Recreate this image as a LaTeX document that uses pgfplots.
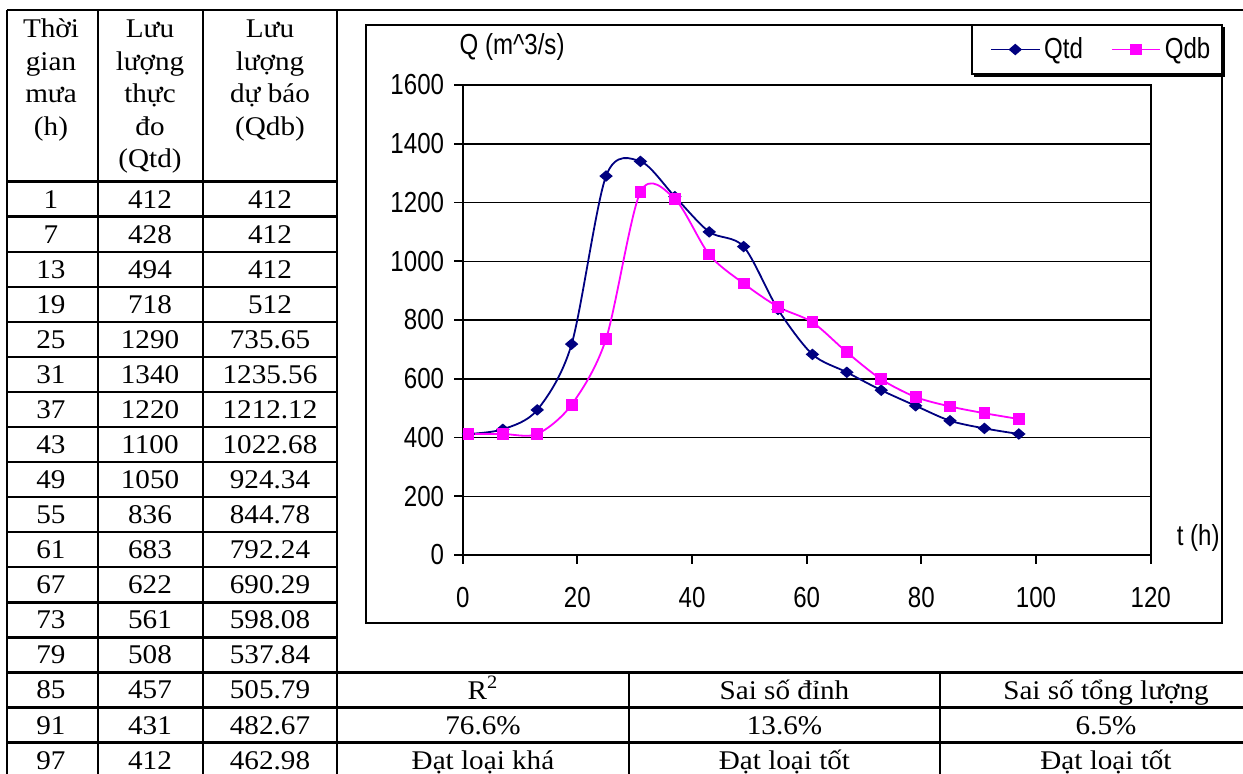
\documentclass[border=0pt]{standalone}
\usepackage{fontspec}
\usepackage{pgfplots}
\pgfplotsset{compat=1.18}
\newfontfamily\tfont[FakeStretch=1.08]{Liberation Serif}
\newfontfamily\cfont[FakeStretch=0.83]{Liberation Sans}
\definecolor{qtd}{RGB}{0,0,128}
\definecolor{qdb}{RGB}{255,0,255}
\newcommand{\tsize}{\tfont\fontsize{13.5pt}{16pt}\selectfont}
\newcommand{\csize}{\cfont\fontsize{14.5pt}{16pt}\selectfont}
\begin{document}
\begin{tikzpicture}
\begin{scope}[x=0.5pt,y=-0.5pt]
\useasboundingbox (0,0) rectangle (1243,773);
\begin{scope}[line width=1.15pt]
\draw (7,10) -- (1260,10);
\foreach \x in {7,97.7,203,337} \draw (\x,10) -- (\x,790);
\draw (7,181.5) -- (337,181.5);
\foreach \k in {1,...,13} \draw (7,{181.5+35.07*\k}) -- (337,{181.5+35.07*\k});
\foreach \k in {14,15,16} \draw (7,{181.5+35.07*\k}) -- (1260,{181.5+35.07*\k});
\draw (629,672.5) -- (629,790);
\draw (940,672.5) -- (940,790);
\draw (366,25) rectangle (1222,623);
\draw (972,25) rectangle (1222,74);
\draw[line width=1.6pt] (974,75) -- (1223,75) -- (1223,27);
\end{scope}
% header
\begin{scope}[every node/.style={anchor=base,inner sep=0pt,font=\tsize}]
\node at (51,37.5) {Thời};
\node at (51,70) {gian};
\node at (51,102.5) {mưa};
\node at (51,135) {(h)};
\node at (150,37.5) {Lưu};
\node at (150,70) {lượng};
\node at (150,102.5) {thực};
\node at (150,135) {đo};
\node at (150,167.5) {(Qtd)};
\node at (270,37.5) {Lưu};
\node at (270,70) {lượng};
\node at (270,102.5) {dự báo};
\node at (270,135) {(Qdb)};
\foreach \a/\b/\c [count=\i from 0] in {1/412/412, 7/428/412, 13/494/412, 19/718/512, 25/1290/735.65, 31/1340/1235.56, 37/1220/1212.12, 43/1100/1022.68, 49/1050/924.34, 55/836/844.78, 61/683/792.24, 67/622/690.29, 73/561/598.08, 79/508/537.84, 85/457/505.79, 91/431/482.67, 97/412/462.98}
{
\node at (51,{181.5+35.07*\i+26.5}) {\a};
\node at (150,{181.5+35.07*\i+26.5}) {\b};
\node at (270,{181.5+35.07*\i+26.5}) {\c};
}
\node at (483,699) {R\textsuperscript{2}};
\node at (784.5,699) {Sai số đỉnh};
\node at (1106,699) {Sai số tổng lượng};
\node at (483,734) {76.6\%};
\node at (784.5,734) {13.6\%};
\node at (1106,734) {6.5\%};
\node at (483,769) {Đạt loại khá};
\node at (784.5,769) {Đạt loại tốt};
\node at (1106,769) {Đạt loại tốt};
\end{scope}
\end{scope}
\begin{axis}[
  at={(231.35pt,-277.5pt)}, anchor=south west,
  scale only axis, width=344pt, height=235pt,
  xmin=0, xmax=120, ymin=0, ymax=1600,
  xtick={0,20,...,120}, ytick={0,200,...,1600},
  tick align=outside, xtick pos=bottom, ytick pos=left,
  major tick length=4.3pt,
  ymajorgrids, grid style={black, line width=0.75pt},
  axis line style={black, line width=0.9pt},
  tick style={black, line width=0.9pt},
  /pgf/number format/assume math mode=true,
  /pgf/number format/1000 sep={},
  tick label style={font=\csize},
  xticklabel style={yshift=-8.5pt},
  yticklabel style={xshift=-1.5pt},
  xlabel={t (h)}, ylabel={Q (m\textasciicircum 3/s)},
  every axis x label/.style={at={(axis description cs:1,0)}, anchor=west, xshift=9.5pt, yshift=8.5pt, font=\csize},
  every axis y label/.style={at={(axis description cs:0,1)}, anchor=center, xshift=24.7pt, yshift=19pt, font=\csize},
  legend columns=2,
  legend style={at={(axis description cs:0.7664,1.0755)}, anchor=west, draw=none, fill=none, font=\csize,
    inner sep=0pt, /tikz/every even column/.append style={column sep=12pt}},
  legend image code/.code={\draw[mark repeat=2,mark phase=2,#1] plot coordinates {(0pt,0pt) (12pt,0pt) (24pt,0pt)};},
]
\addplot[qtd, line width=0.9pt, smooth, tension=0.5, mark=diamond*, mark size=2.3pt, mark options={xscale=1.55, solid, fill=qtd}]
coordinates {(1,412) (7,428) (13,494) (19,718) (25,1290) (31,1340) (37,1220) (43,1100) (49,1050) (55,836) (61,683) (67,622) (73,561) (79,508) (85,457) (91,431) (97,412)};
\addlegendentry{Qtd}
\addplot[qdb, line width=0.9pt, smooth, tension=0.5, mark=square*, mark size=2.5pt, mark options={solid, fill=qdb}]
coordinates {(1,412) (7,412) (13,412) (19,512) (25,735.65) (31,1235.56) (37,1212.12) (43,1022.68) (49,924.34) (55,844.78) (61,792.24) (67,690.29) (73,598.08) (79,537.84) (85,505.79) (91,482.67) (97,462.98)};
\addlegendentry{Qdb}
\end{axis}
\end{tikzpicture}
\end{document}
